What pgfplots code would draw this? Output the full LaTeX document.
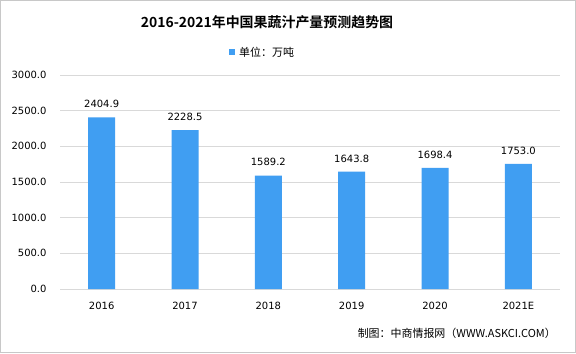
\documentclass[border=0pt]{standalone}
\usepackage{pgfplots}
\pgfplotsset{compat=1.18}
\usepackage{fontspec}
\setmainfont{DejaVu Sans}
\newfontfamily\cjk{Noto Sans CJK SC}
\newfontfamily\cjkb{Noto Sans CJK SC Bold}
\definecolor{barblue}{RGB}{64,158,242}
\definecolor{gridgray}{RGB}{217,217,217}
\definecolor{framegray}{RGB}{200,200,200}
\begin{document}
\begin{tikzpicture}[x=1bp,y=1bp]
\path[use as bounding box] (0,0) rectangle (576,353);
\fill[white] (0,0) rectangle (576,353);
\draw[framegray, line width=1bp] (0.5,0.5) rectangle (575.5,352.5);
\begin{axis}[
  at={(60bp,64bp)}, anchor=south west,
  scale only axis, width=500bp, height=214bp,
  xmin=-0.5, xmax=5.5, ymin=0, ymax=3000,
  ytick={0,500,1000,1500,2000,2500,3000},
  xtick=data,
  xticklabels={2016,2017,2018,2019,2020,2021E},
  axis line style={draw=none},
  major tick length=0pt,
  ymajorgrids, grid style={gridgray, line width=0.8bp},
  /pgf/number format/.cd, fixed, fixed zerofill, precision=1, 1000 sep={}, assume math mode=true,
  /pgfplots/.cd,
  tick label style={font=\fontsize{10}{12}\selectfont, black},
  yticklabel style={xshift=-10bp},
  xticklabel style={yshift=-10bp},
  ybar, bar width=27bp,
  nodes near coords,
  nodes near coords style={font=\fontsize{10}{12}\selectfont, black, anchor=south, yshift=6bp,
    /pgf/number format/.cd, fixed, fixed zerofill, precision=1, 1000 sep={}, assume math mode=true},
]
\addplot[fill=barblue, draw=none] coordinates {(0,2404.9) (1,2228.5) (2,1589.2) (3,1643.8) (4,1698.4) (5,1753.0)};
\end{axis}
\node[font=\cjkb\fontsize{14}{16}\selectfont] at (267,331) {2016-2021年中国果蔬汁产量预测趋势图};
\fill[barblue] (229,298) rectangle (235,304);
\node[font=\cjk\fontsize{11}{13}\selectfont, anchor=west, inner sep=0] at (239,301) {单位：万吨};
\node[font=\cjk\fontsize{11}{13}\selectfont, anchor=east, inner sep=0] at (556,20) {制图：中商情报网（WWW.ASKCI.COM）};
\end{tikzpicture}
\end{document}
